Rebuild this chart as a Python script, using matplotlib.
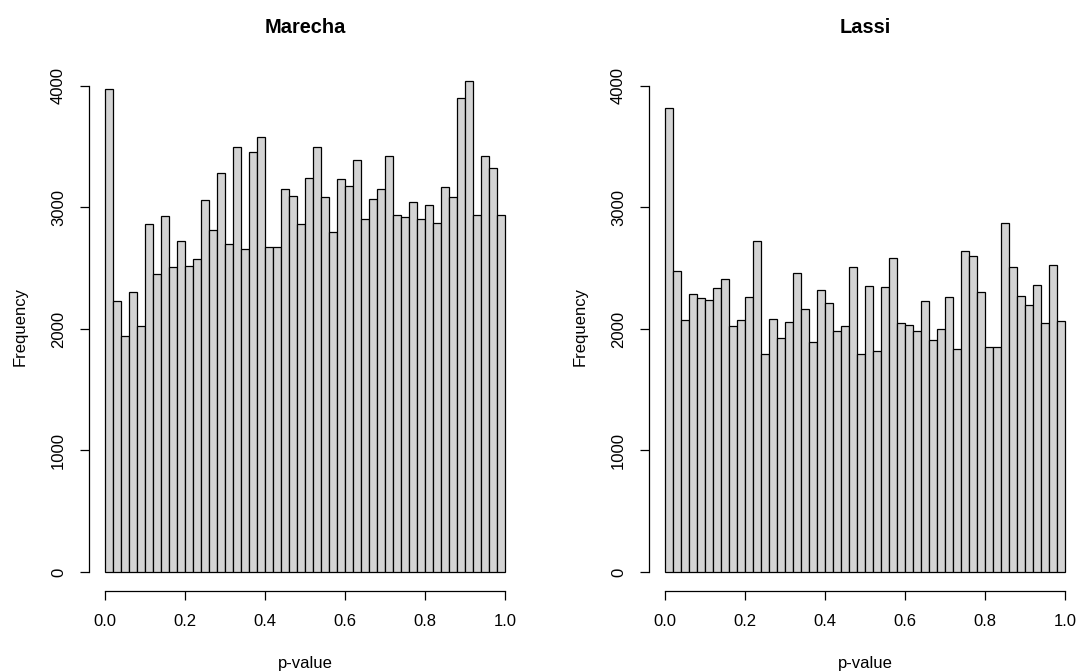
"""Two R-style p-value histograms side by side."""
import matplotlib
matplotlib.use("Agg")
import matplotlib.pyplot as plt
import numpy as np

plt.rcParams["font.family"] = ["Liberation Sans", "DejaVu Sans"]

BIN_WIDTH = 0.02
XTICKS = [0.0, 0.2, 0.4, 0.6, 0.8, 1.0]
YTICKS = [0, 1000, 2000, 3000, 4000]

MARECHA = [
    3975, 2230, 1945, 2307, 2025, 2867, 2453, 2930, 2508, 2724,
    2521, 2573, 3059, 2815, 3287, 2702, 3495, 2661, 3460, 3580,
    2677, 2675, 3155, 3097, 2864, 3240, 3495, 3089, 2796, 3232,
    3180, 3391, 2905, 3070, 3155, 3424, 2941, 2919, 3043, 2908,
    3021, 2875, 3169, 3086, 3901, 4041, 2938, 3424, 3328, 2938,
]

LASSI = [
    3821, 2477, 2074, 2291, 2255, 2236, 2335, 2414, 2027, 2072,
    2263, 2727, 1792, 2082, 1923, 2055, 2463, 2162, 1896, 2324,
    2211, 1986, 2022, 2513, 1792, 2357, 1822, 2348, 2582, 2049,
    2033, 1981, 2230, 1909, 2003, 2266, 1838, 2645, 2603, 2307,
    1849, 1854, 2872, 2510, 2272, 2195, 2362, 2052, 2527, 2066,
]

PANELS = [("Marecha", MARECHA), ("Lassi", LASSI)]

W, H = 1078, 672
fig = plt.figure(figsize=(W / 100, H / 100), dpi=100)

# axes boxes in pixels: left, top, width, height
boxes = [(89, 61.7, 432, 529.7), (649, 61.7, 432, 529.7)]

for (title, counts), (left, top, width, height) in zip(PANELS, boxes):
    ax = fig.add_axes([left / W, (H - top - height) / H, width / W, height / H])
    counts = np.asarray(counts)
    edges = np.arange(len(counts)) * BIN_WIDTH
    ax.bar(edges, counts, width=BIN_WIDTH, align="edge",
           color="#d3d3d3", edgecolor="black", linewidth=0.9)

    ax.set_xlim(-0.04, 1.04)
    ax.set_ylim(-160, 4200)
    for side in ("top", "right"):
        ax.spines[side].set_visible(False)
    ax.spines["bottom"].set_bounds(0, 1)
    ax.spines["left"].set_bounds(0, 4000)
    for side in ("bottom", "left"):
        ax.spines[side].set_linewidth(0.9)

    ax.set_xticks(XTICKS)
    ax.set_xticklabels([f"{t:.1f}" for t in XTICKS])
    ax.set_yticks(YTICKS)
    ax.set_yticklabels([str(t) for t in YTICKS], rotation=90, va="center")
    ax.tick_params(direction="out", length=6.5, width=0.9, labelsize=12)
    ax.tick_params(axis="x", pad=10)
    ax.tick_params(axis="y", pad=10)

    ax.set_title(title, fontsize=14.4, fontweight="bold", pad=21)
    ax.set_xlabel("p-value", fontsize=12, labelpad=19)
    ax.set_ylabel("Frequency", fontsize=12, labelpad=17)

fig.savefig("out.png", dpi=100)
